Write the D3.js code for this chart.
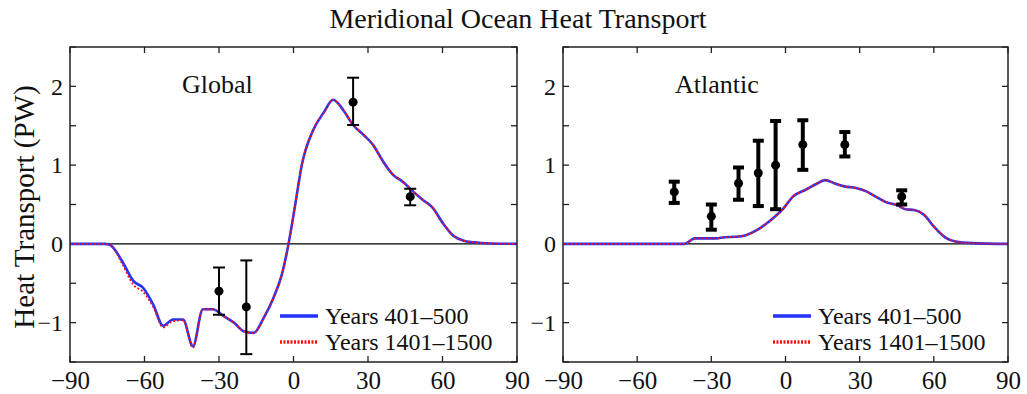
<!DOCTYPE html>
<html><head><meta charset="utf-8">
<script src="https://cdn.jsdelivr.net/npm/d3@7"></script>
<style>
body{margin:0;background:#fff;}
text{font-family:"Liberation Serif","Times New Roman",serif;fill:#111;}
</style></head>
<body><svg id="c" width="1027" height="394"></svg>
<script>
// ---- Data ----
const xTicks = [-90,-60,-30,0,30,60,90];
const yTickLabels = [-1,0,1,2];
const yMinorTicks = [-1.5,-1,-0.5,0,0.5,1,1.5,2,2.5];
const seriesNames = ["Years 401\u2013500","Years 1401\u20131500"];

const globalLat  = [-90,-76,-74,-69,-64.5,-60.5,-56.5,-52.5,-48.5,-44.5,-40.5,-36.5,-32.5,-28,-24,-20,-16,-12,-8,-4.7,-2,0.7,3.4,8,12,16,20,24,28,32,36,40,44,48,52,56,60,64.5,68.5,72.5,80,90];
const globalA    = [0,0,-0.01,-0.22,-0.47,-0.56,-0.77,-1.04,-0.96,-0.96,-1.30,-0.83,-0.83,-0.92,-1.00,-1.11,-1.13,-0.94,-0.68,-0.39,0,0.50,1.01,1.45,1.66,1.83,1.70,1.51,1.39,1.26,1.05,0.88,0.79,0.67,0.56,0.46,0.27,0.10,0.04,0.02,0.005,0];
const globalB    = [0,0,-0.01,-0.25,-0.52,-0.61,-0.80,-1.06,-0.98,-0.97,-1.32,-0.83,-0.83,-0.92,-1.00,-1.11,-1.13,-0.94,-0.68,-0.39,0,0.50,1.01,1.45,1.66,1.83,1.70,1.51,1.39,1.26,1.05,0.88,0.79,0.67,0.56,0.46,0.27,0.10,0.04,0.02,0.005,0];

const atlLat = [-90,-40.7,-36.7,-32,-28,-24.6,-20,-16,-11.8,-6.4,-1.1,3,8.3,12.4,16.1,19.7,23.8,28.5,32.5,36.5,40.6,45.3,48.6,52,56,60,64.7,68.8,75.5,90];
const atlA   = [0,0,0.07,0.07,0.07,0.085,0.09,0.11,0.17,0.29,0.44,0.60,0.69,0.76,0.81,0.77,0.73,0.71,0.67,0.60,0.53,0.49,0.44,0.43,0.37,0.22,0.08,0.03,0.01,0];
const atlB   = [0,0,0.07,0.07,0.07,0.085,0.09,0.11,0.17,0.29,0.44,0.60,0.69,0.76,0.81,0.77,0.73,0.71,0.67,0.60,0.53,0.49,0.44,0.43,0.37,0.22,0.08,0.03,0.01,0];

const globalObsLat = [-30,-19,24,47];
const globalObs    = [-0.60,-0.80,1.80,0.60];
const globalObsLo  = [-0.90,-1.40,1.51,0.49];
const globalObsHi  = [-0.30,-0.21,2.11,0.70];

const atlObsLat = [-45,-30,-19,-11,-4,7,24,47];
const atlObs    = [0.66,0.35,0.77,0.90,1.00,1.26,1.26,0.60];
const atlObsLo  = [0.52,0.18,0.56,0.48,0.44,0.94,1.11,0.50];
const atlObsHi  = [0.79,0.50,0.97,1.31,1.56,1.57,1.42,0.68];

// ---- Drawing ----
const svg = d3.select("#c");
const plotTop = 47, plotBottom = 362;

svg.append("text").attr("x",518).attr("y",28).attr("text-anchor","middle")
  .style("font-size","28px").text("Meridional Ocean Heat Transport");
svg.append("text").attr("transform","translate(34,207) rotate(-90)").attr("text-anchor","middle")
  .style("font-size","29px").text("Heat Transport (PW)");

function panel(cfg){
  const x = d3.scaleLinear().domain([-90,90]).range([cfg.left,cfg.right]);
  const y = d3.scaleLinear().domain([-1.5,2.5]).range([plotBottom,plotTop]);
  const g = svg.append("g");
  const frame = "#222";
  g.append("line").attr("x1",x(-90)).attr("x2",x(90)).attr("y1",y(0)).attr("y2",y(0))
    .attr("stroke","#000").attr("stroke-width",1.2);
  const tl = 6;
  xTicks.forEach(t=>{
    g.append("line").attr("x1",x(t)).attr("x2",x(t)).attr("y1",plotBottom).attr("y2",plotBottom-tl).attr("stroke",frame).attr("stroke-width",1.3);
    g.append("line").attr("x1",x(t)).attr("x2",x(t)).attr("y1",plotTop).attr("y2",plotTop+tl).attr("stroke",frame).attr("stroke-width",1.3);
  });
  yMinorTicks.forEach(t=>{
    g.append("line").attr("x1",cfg.left).attr("x2",cfg.left+tl).attr("y1",y(t)).attr("y2",y(t)).attr("stroke",frame).attr("stroke-width",1.3);
    g.append("line").attr("x1",cfg.right).attr("x2",cfg.right-tl).attr("y1",y(t)).attr("y2",y(t)).attr("stroke",frame).attr("stroke-width",1.3);
  });
  const ax = d3.axisBottom(x).tickValues(xTicks).tickSize(0).tickPadding(0)
    .tickFormat(d=>d<0?"\u2212"+Math.abs(d):String(d));
  const axg = g.append("g").attr("transform",`translate(0,${plotBottom+27})`).call(ax);
  axg.select(".domain").remove();
  axg.selectAll("text").attr("dy",0).style("font-size","25px").style("font-family","Liberation Serif");
  const ay = d3.axisLeft(y).tickValues(yTickLabels).tickSize(0).tickPadding(0)
    .tickFormat(d=>d<0?"\u2212"+Math.abs(d):String(d));
  const ayg = g.append("g").attr("transform",`translate(${cfg.left-7},0)`).call(ay);
  ayg.select(".domain").remove();
  ayg.selectAll("text").style("font-size","24px").style("font-family","Liberation Serif");

  const line = d3.line().x((d)=>x(d[0])).y(d=>y(d[1])).curve(d3.curveMonotoneX);
  g.append("path").datum(cfg.lat.map((l,i)=>[l,cfg.a[i]])).attr("d",line)
    .attr("fill","none").attr("stroke","#2233ff").attr("stroke-width",2.6);
  g.append("path").datum(cfg.lat.map((l,i)=>[l,cfg.b[i]])).attr("d",line)
    .attr("fill","none").attr("stroke","#ff1111").attr("stroke-width",1.8).attr("stroke-dasharray","2,2");

  cfg.obsLat.forEach((l,i)=>{
    const cx = x(l), w = cfg.cap;
    g.append("line").attr("x1",cx).attr("x2",cx).attr("y1",y(cfg.lo[i])).attr("y2",y(cfg.hi[i])).attr("stroke","#000").attr("stroke-width",cfg.ebw);
    [cfg.lo[i],cfg.hi[i]].forEach(v=>g.append("line").attr("x1",cx-w/2).attr("x2",cx+w/2).attr("y1",y(v)).attr("y2",y(v)).attr("stroke","#000").attr("stroke-width",cfg.ebw));
    g.append("circle").attr("cx",cx).attr("cy",y(cfg.obs[i])).attr("r",cfg.r).attr("fill","#000");
  });

  g.append("rect").attr("x",cfg.left).attr("y",plotTop).attr("width",cfg.right-cfg.left).attr("height",plotBottom-plotTop)
    .attr("fill","none").attr("stroke",frame).attr("stroke-width",1.5);

  g.append("text").attr("x",cfg.labelX).attr("y",93).style("font-size","26px").text(cfg.label);

  const lx = cfg.legX, ly1 = 316, ly2 = 342;
  g.append("line").attr("x1",lx).attr("x2",lx+38).attr("y1",ly1).attr("y2",ly1).attr("stroke","#2233ff").attr("stroke-width",3.5);
  g.append("line").attr("x1",lx).attr("x2",lx+38).attr("y1",ly2).attr("y2",ly2).attr("stroke","#ff1111").attr("stroke-width",3.5).attr("stroke-dasharray","2,1.5");
  g.append("text").attr("x",lx+45).attr("y",ly1+8).style("font-size","24px").text(seriesNames[0]);
  g.append("text").attr("x",lx+45).attr("y",ly2+8).style("font-size","24px").text(seriesNames[1]);
}

panel({left:70,right:517,lat:globalLat,a:globalA,b:globalB,obsLat:globalObsLat,obs:globalObs,lo:globalObsLo,hi:globalObsHi,
  cap:12,ebw:2,r:4.5,label:"Global",labelX:182,legX:280});
panel({left:563,right:1008,lat:atlLat,a:atlA,b:atlB,obsLat:atlObsLat,obs:atlObs,lo:atlObsLo,hi:atlObsHi,
  cap:11,ebw:4,r:4.5,label:"Atlantic",labelX:675,legX:773});
</script></body></html>
